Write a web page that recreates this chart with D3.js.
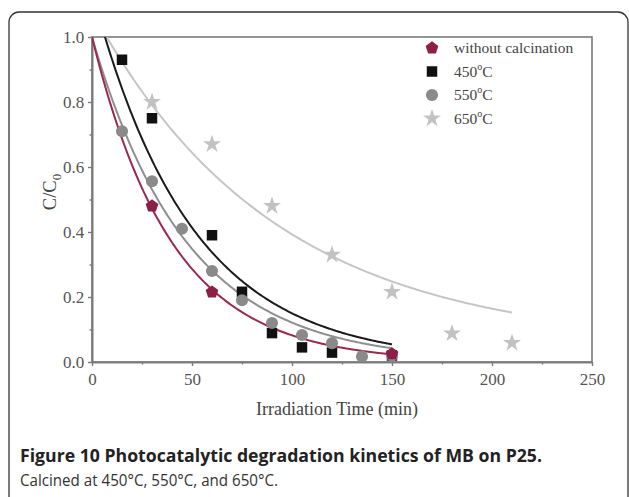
<!DOCTYPE html>
<html><head><meta charset="utf-8">
<script src="https://cdn.jsdelivr.net/npm/d3@7"></script>
<style>html,body{margin:0;padding:0;background:#fff;}svg{display:block;}</style>
</head><body>
<svg id="c" width="629" height="497"></svg>
<script>
// ---- data ----
const timesWithout = [30, 60, 150];
const valuesWithout = [0.48, 0.215, 0.025];
const times450 = [15, 30, 60, 75, 90, 105, 120, 150];
const values450 = [0.93, 0.75, 0.39, 0.216, 0.089, 0.045, 0.029, 0.02];
const times550 = [15, 30, 45, 60, 75, 90, 105, 120, 135, 150];
const values550 = [0.71, 0.556, 0.41, 0.28, 0.19, 0.12, 0.083, 0.058, 0.017, 0.02];
const times650 = [30, 60, 90, 120, 150, 180, 210];
const values650 = [0.80, 0.67, 0.48, 0.33, 0.216, 0.088, 0.059];
// fitted curves: y = A*exp(-k t) + c, over [0, tEnd]
const fitNames = ["without", "450", "550", "650"];
const fitA = [1.0, 1.141, 1.0, 1.03];
const fitK = [0.025, 0.0203, 0.0211, 0.011];
const fitC = [0, 0, 0, 0.05];
const fitEnd = [150, 150, 150, 210];
const legendLabels = ["without calcination", "450", "550", "650"];
const xTicks = [0, 50, 100, 150, 200, 250];
const yTicks = [0.0, 0.2, 0.4, 0.6, 0.8, 1.0];

const svg = d3.select("#c");
// outer rounded border
svg.append("rect").attr("x", 9).attr("y", 12).attr("width", 619).attr("height", 520)
  .attr("rx", 10).attr("fill", "none").attr("stroke", "#333").attr("stroke-width", 1.3);

const L = 92, R = 592, T = 37, B = 362;
const x = d3.scaleLinear().domain([0, 250]).range([L, R]);
const y = d3.scaleLinear().domain([0, 1]).range([B, T]);
const axisCol = "#7a7a7a";

svg.append("defs").append("clipPath").attr("id", "clip")
  .append("rect").attr("x", L).attr("y", T).attr("width", R - L).attr("height", B - T);

// frame
svg.append("rect").attr("x", L).attr("y", T).attr("width", R - L).attr("height", B - T)
  .attr("fill", "none").attr("stroke", axisCol).attr("stroke-width", 1.6);

// axes
const xAxis = svg.append("g").attr("transform", `translate(0,${B})`)
  .call(d3.axisBottom(x).tickValues(xTicks).tickFormat(d3.format("d")).tickSize(4).tickSizeOuter(0));
const xMinor = svg.append("g").attr("transform", `translate(0,${B})`)
  .call(d3.axisBottom(x).tickValues([25, 75, 125, 175, 225]).tickFormat("").tickSize(2.5).tickSizeOuter(0));
const yAxis = svg.append("g").attr("transform", `translate(${L},0)`)
  .call(d3.axisLeft(y).tickValues(yTicks).tickFormat(d3.format(".1f")).tickSize(4).tickSizeOuter(0));
const yMinor = svg.append("g").attr("transform", `translate(${L},0)`)
  .call(d3.axisLeft(y).tickValues([0.1, 0.3, 0.5, 0.7, 0.9]).tickFormat("").tickSize(2.5).tickSizeOuter(0));
[xAxis, xMinor, yAxis, yMinor].forEach(g => {
  g.select(".domain").attr("stroke", axisCol).attr("stroke-width", 1.6);
  g.selectAll(".tick line").attr("stroke", axisCol).attr("stroke-width", 1.4);
  g.selectAll(".tick text").attr("fill", "#555").attr("font-family", "Liberation Serif, serif").attr("font-size", 17);
});
xAxis.selectAll(".tick text").attr("dy", "0.95em");
yAxis.selectAll(".tick text").attr("dx", "-0.05em");

// axis titles
svg.append("text").attr("x", 337).attr("y", 415).attr("text-anchor", "middle")
  .attr("font-family", "Liberation Serif, serif").attr("font-size", 18).attr("fill", "#444")
  .text("Irradiation Time (min)");
const yt = svg.append("text").attr("transform", "translate(56,192) rotate(-90)").attr("text-anchor", "middle")
  .attr("font-family", "Liberation Serif, serif").attr("font-size", 18.5).attr("fill", "#444");
yt.append("tspan").text("C/C");
yt.append("tspan").attr("font-size", 13).attr("dy", 5).text("0");

// curves
const curveCols = ["#9a2a4c", "#1a1a1a", "#8f8f8f", "#c6c6c6"];
const line = d3.line().x(d => x(d[0])).y(d => y(d[1])).curve(d3.curveMonotoneX);
const curvesG = svg.append("g").attr("clip-path", "url(#clip)");
[3, 2, 1, 0].forEach(i => {
  const pts = d3.range(0, fitEnd[i] + 0.001, 1).map(t => [t, fitA[i] * Math.exp(-fitK[i] * t) + fitC[i]]);
  curvesG.append("path").datum(pts).attr("d", line).attr("fill", "none")
    .attr("stroke", curveCols[i]).attr("stroke-width", 2);
});

// pentagon symbol
const pentagon = { draw(ctx, size) {
  const r = Math.sqrt(size / 2.378);
  for (let j = 0; j < 5; j++) {
    const a = -Math.PI / 2 + j * 2 * Math.PI / 5;
    const px = r * Math.cos(a), py = r * Math.sin(a);
    if (j === 0) ctx.moveTo(px, py); else ctx.lineTo(px, py);
  }
  ctx.closePath();
}};
const markerCols = ["#8c1f45", "#111111", "#8a8a8a", "#c2c2c2"];
const symbols = [
  d3.symbol().type(pentagon).size(105),
  d3.symbol().type(d3.symbolSquare).size(110),
  d3.symbol().type(d3.symbolCircle).size(115),
  d3.symbol().type(d3.symbolStar).size(100)
];
const series = [
  [timesWithout, valuesWithout],
  [times450, values450],
  [times550, values550],
  [times650, values650]
];
[3, 1, 2, 0].forEach(i => {
  const [ts, vs] = series[i];
  svg.append("g").selectAll("path").data(ts.map((t, j) => [t, vs[j]])).join("path")
    .attr("transform", d => `translate(${x(d[0])},${y(d[1])})`)
    .attr("d", symbols[i]).attr("fill", markerCols[i]);
});

// legend
const lg = svg.append("g");
legendLabels.forEach((lab, i) => {
  const ly = 48 + i * 23.5;
  lg.append("path").attr("transform", `translate(432,${ly})`).attr("d", symbols[i]).attr("fill", markerCols[i]);
  const t = lg.append("text").attr("x", 454).attr("y", ly + 5)
    .attr("font-family", "Liberation Serif, serif").attr("font-size", 15.5).attr("fill", "#444");
  if (i === 0) t.text(lab);
  else {
    t.append("tspan").text(lab);
    t.append("tspan").attr("font-size", 10).attr("dy", -7).text("o");
    t.append("tspan").attr("dy", 7).text("C");
  }
});

// caption
svg.append("text").attr("x", 20).attr("y", 462).attr("font-family", "Open Sans, sans-serif")
  .attr("font-size", 17.5).attr("font-weight", "bold").attr("fill", "#222")
  .attr("textLength", 522).attr("lengthAdjust", "spacingAndGlyphs")
  .text("Figure 10 Photocatalytic degradation kinetics of MB on P25.");
svg.append("text").attr("x", 20).attr("y", 486).attr("font-family", "Open Sans, sans-serif")
  .attr("font-size", 15.5).attr("fill", "#333")
  .attr("textLength", 258).attr("lengthAdjust", "spacingAndGlyphs")
  .text("Calcined at 450°C, 550°C, and 650°C.");
</script>
</body></html>
